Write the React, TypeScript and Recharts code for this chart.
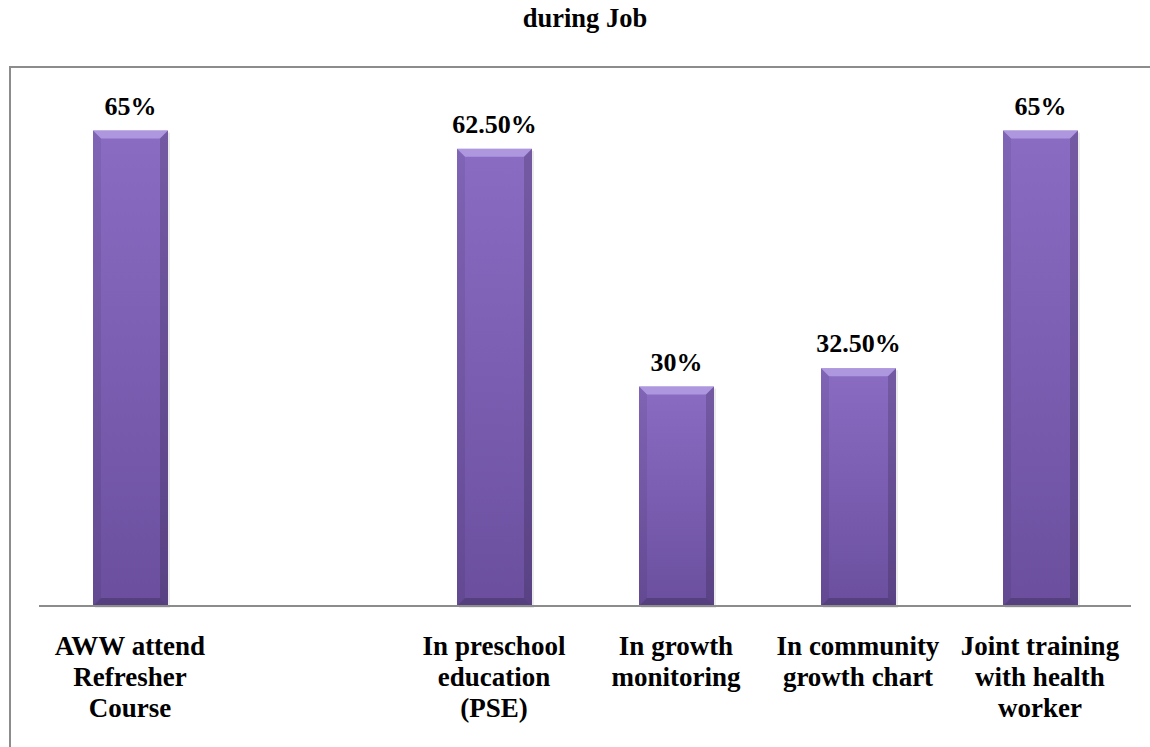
import { BarChart, Bar, XAxis, YAxis, LabelList } from "recharts";

const categories = [
  "AWW attend Refresher Course",
  "",
  "In preschool education (PSE)",
  "In growth monitoring",
  "In community growth chart",
  "Joint training with health worker",
];

const tickLines = [
  ["AWW attend", "Refresher", "Course"],
  [],
  ["In preschool", "education", "(PSE)"],
  ["In growth", "monitoring"],
  ["In community", "growth chart"],
  ["Joint training", "with health", "worker"],
];

const percentValues = [65, null, 62.5, 30, 32.5, 65];
const percentLabels = ["65%", "", "62.50%", "30%", "32.50%", "65%"];

const data = categories.map((name, i) => ({
  name,
  value: percentValues[i],
  label: percentLabels[i],
}));

const FONT = "'Liberation Serif', 'Times New Roman', serif";

function BevelBar(props: any) {
  const { x, y, width, height } = props;
  if (!height || height <= 0) return null;
  const b = Math.min(8, width / 2, height / 2);
  return (
    <g>
      <rect x={x + 2} y={y + 2} width={width} height={height} fill="#000" opacity={0.08} />
      <rect x={x} y={y} width={width} height={height} fill="url(#barBody)" />
      <polygon
        points={`${x},${y} ${x + width},${y} ${x + width - b},${y + b} ${x + b},${y + b}`}
        fill="#b49fe4"
        opacity={0.85}
      />
      <polygon
        points={`${x},${y} ${x + b},${y + b} ${x + b},${y + height - b} ${x},${y + height}`}
        fill="#000"
        opacity={0.07}
      />
      <polygon
        points={`${x + width},${y} ${x + width - b},${y + b} ${x + width - b},${y + height - b} ${x + width},${y + height}`}
        fill="#000"
        opacity={0.16}
      />
      <polygon
        points={`${x},${y + height} ${x + b},${y + height - b} ${x + width - b},${y + height - b} ${x + width},${y + height}`}
        fill="#000"
        opacity={0.2}
      />
    </g>
  );
}

function ValueLabel(props: any) {
  const { x, y, width, value } = props;
  if (!value) return null;
  return (
    <text
      x={x + width / 2}
      y={y - 16}
      textAnchor="middle"
      fontFamily={FONT}
      fontWeight="bold"
      fontSize={26}
      fill="#000"
    >
      {value}
    </text>
  );
}

function CategoryTick(props: any) {
  const { x, y, payload } = props;
  const lines = tickLines[payload.index] || [];
  return (
    <text
      x={x}
      y={y}
      textAnchor="middle"
      fontFamily={FONT}
      fontWeight="bold"
      fontSize={27}
      fill="#000"
    >
      {lines.map((line, i) => (
        <tspan key={i} x={x} dy={i === 0 ? 49 : 31}>
          {line}
        </tspan>
      ))}
    </text>
  );
}

export default function App() {
  return (
    <div
      style={{
        position: "absolute",
        left: 0,
        top: 0,
        width: 1150,
        height: 747,
        background: "#fff",
        overflow: "hidden",
        fontFamily: FONT,
      }}
    >
      <div
        style={{
          position: "absolute",
          left: 585,
          top: 5,
          transform: "translateX(-50%)",
          fontSize: 26.5,
          lineHeight: "26px",
          fontWeight: "bold",
          whiteSpace: "nowrap",
        }}
      >
        during Job
      </div>
      <div
        style={{
          position: "absolute",
          left: 9,
          top: 66,
          width: 1200,
          height: 760,
          borderLeft: "2px solid #8c8c8c",
          borderTop: "2px solid #8c8c8c",
        }}
      />
      <div style={{ position: "absolute", left: 0, top: 0 }}>
        <BarChart
          width={1150}
          height={747}
          data={data}
          margin={{ top: 94, right: 19, bottom: 0, left: 39 }}
          barCategoryGap={0}
        >
          <defs>
            <linearGradient id="barBody" x1="0" y1="0" x2="0" y2="1">
              <stop offset="0%" stopColor="#8a6cc3" />
              <stop offset="100%" stopColor="#6b4f9e" />
            </linearGradient>
          </defs>
          <YAxis hide domain={[0, 70]} />
          <XAxis
            dataKey="name"
            height={141}
            interval={0}
            tickLine={false}
            tickSize={0}
            tickMargin={0}
            axisLine={{ stroke: "#8c8c8c", strokeWidth: 2 }}
            tick={<CategoryTick />}
          />
          <Bar
            dataKey="value"
            barSize={75}
            shape={<BevelBar />}
            isAnimationActive={false}
          >
            <LabelList dataKey="label" content={<ValueLabel />} />
          </Bar>
        </BarChart>
      </div>
    </div>
  );
}
